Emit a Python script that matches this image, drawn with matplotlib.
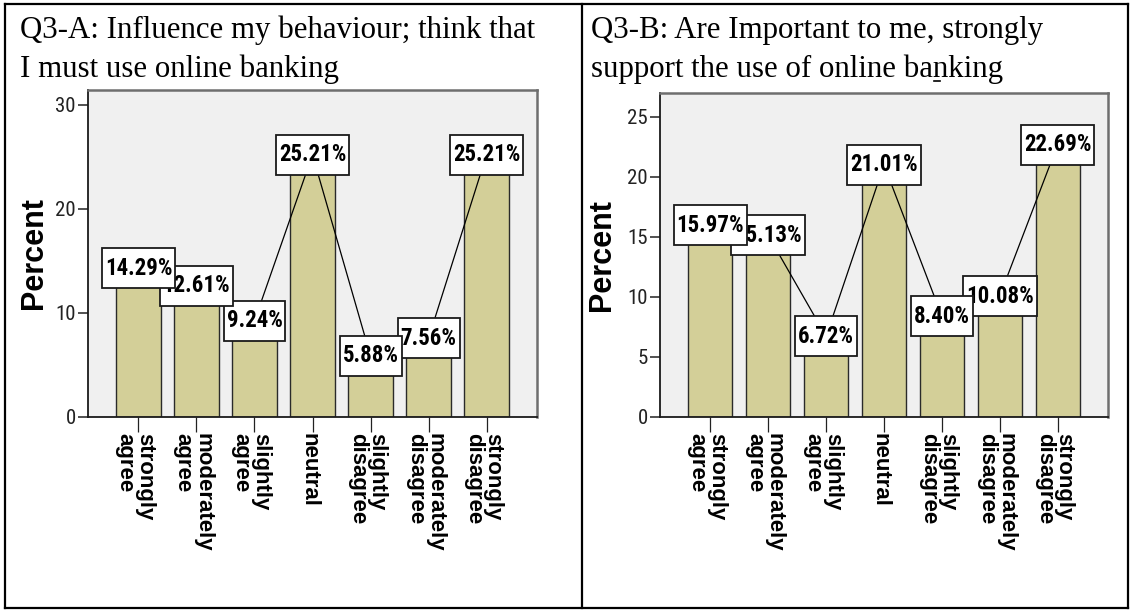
import matplotlib
matplotlib.use("Agg")
import matplotlib.pyplot as plt
import numpy as np
from matplotlib.path import Path
from matplotlib.lines import Line2D
from matplotlib.transforms import ScaledTranslation

# Response categories (shared by both questions)
categories = ["strongly\nagree", "moderately\nagree", "slightly\nagree", "neutral",
              "slightly\ndisagree", "moderately\ndisagree", "strongly\ndisagree"]

# Percent of respondents per category
q3a_percent = [14.29, 12.61, 9.24, 25.21, 5.88, 7.56, 25.21]
q3b_percent = [15.97, 15.13, 6.72, 21.01, 8.40, 10.08, 22.69]

q3a_title = "Q3-A: Influence my behaviour; think that\nI must use online banking"
q3b_title = "Q3-B: Are Important to me, strongly\nsupport the use of online banking"

q3a_yticks = [0, 10, 20, 30]
q3b_yticks = [0, 5, 10, 15, 20, 25]

W, H, DPI = 1132, 611, 100
BAR_COLOR = "#D3CF98"
FACE_COLOR = "#F0F0F0"
NARROW = "Roboto Condensed"
BOX_H_PX = 40.0
BOX_PADX_PX = 3.0


def label_box(x0, y0, width, height, mutation_size):
    """Rectangle with a fixed height and a tight horizontal pad (pixel units)."""
    cy = y0 + height / 2.0
    hh = BOX_H_PX / 2.0
    xa = x0 - BOX_PADX_PX
    xb = x0 + width + BOX_PADX_PX
    return Path([(xa, cy - hh), (xb, cy - hh), (xb, cy + hh), (xa, cy + hh), (xa, cy - hh)],
                closed=True)


fig = plt.figure(figsize=(W / DPI, H / DPI), dpi=DPI, facecolor="white")


def px_rect(left, top, right, bottom):
    return [left / W, 1 - bottom / H, (right - left) / W, (bottom - top) / H]


def draw_panel(rect, values, yticks, ytop, ylabel_dx):
    ax = fig.add_axes(rect)
    ax.set_facecolor(FACE_COLOR)
    x = np.arange(len(categories))
    ax.bar(x, values, width=0.76, color=BAR_COLOR, edgecolor="#2a2a2a",
           linewidth=1.0, zorder=2)
    ax.plot(x, values, color="black", lw=0.9, zorder=3)
    for i, v in enumerate(values):
        ax.text(i, v, f"{v:.2f}%", ha="center", va="center", fontsize=16.5,
                fontweight="bold", family=NARROW, color="black",
                bbox=dict(boxstyle=label_box, fc="white", ec="#1a1a1a", lw=1.3),
                zorder=10 - i)
    ax.set_xlim(-0.87, 6.87)
    ax.set_ylim(0, ytop)
    ax.set_yticks(yticks)
    ax.set_yticklabels([str(t) for t in yticks], family=NARROW, fontsize=15,
                       color="#222")
    ax.set_xticks(x)
    ax.set_xticklabels(categories, rotation=-90, ha="center", va="top",
                       multialignment="left", fontsize=16, fontweight="bold",
                       family="Liberation Sans", linespacing=0.9)
    ax.tick_params(axis="x", length=10.8, width=0.9, pad=0.7, color="#222")
    ax.tick_params(axis="y", length=7.2, width=1.1, pad=1.5, color="#222")
    shift = ScaledTranslation(-0.035, 0, fig.dpi_scale_trans)
    for lab in ax.get_xticklabels():
        lab.set_transform(lab.get_transform() + shift)
    for side in ("left", "bottom"):
        ax.spines[side].set_color("#1a1a1a")
        ax.spines[side].set_linewidth(1.3)
    for side in ("top", "right"):
        ax.spines[side].set_color("#6e6e6e")
        ax.spines[side].set_linewidth(1.8)
    ax.set_ylabel("Percent", fontsize=22, fontweight="bold", family="Liberation Sans")
    ax.yaxis.set_label_coords(-ylabel_dx / (rect[2] * W), 0.5)
    return ax


draw_panel(px_rect(88, 90, 537, 417), q3a_percent, q3a_yticks, 31.44, 39)
draw_panel(px_rect(660, 93, 1108, 417), q3b_percent, q3b_yticks, 27.0, 43)

# Panel titles (anchored on the baseline of the second line)
title_kw = dict(family="Liberation Serif", fontsize=22.2, va="baseline", ha="left",
                linespacing=1.42, color="black")
fig.text(20 / W, 1 - 77 / H, q3a_title, **title_kw)
fig.text(591 / W, 1 - 77 / H, q3b_title, **title_kw)

# Table borders around the two panels
border_kw = dict(color="black", lw=1.6, transform=fig.transFigure)
for xv in (5, 582, 1128):
    fig.add_artist(Line2D([xv / W, xv / W], [1 - 4 / H, 1 - 608 / H], **border_kw))
for yv in (4, 608):
    fig.add_artist(Line2D([5 / W, 1128 / W], [1 - yv / H, 1 - yv / H], **border_kw))
fig.add_artist(Line2D([934 / W, 940 / W], [1 - 81 / H, 1 - 81 / H], color="black",
                      lw=1.2, transform=fig.transFigure))

fig.savefig("out.png", dpi=DPI, facecolor="white")
